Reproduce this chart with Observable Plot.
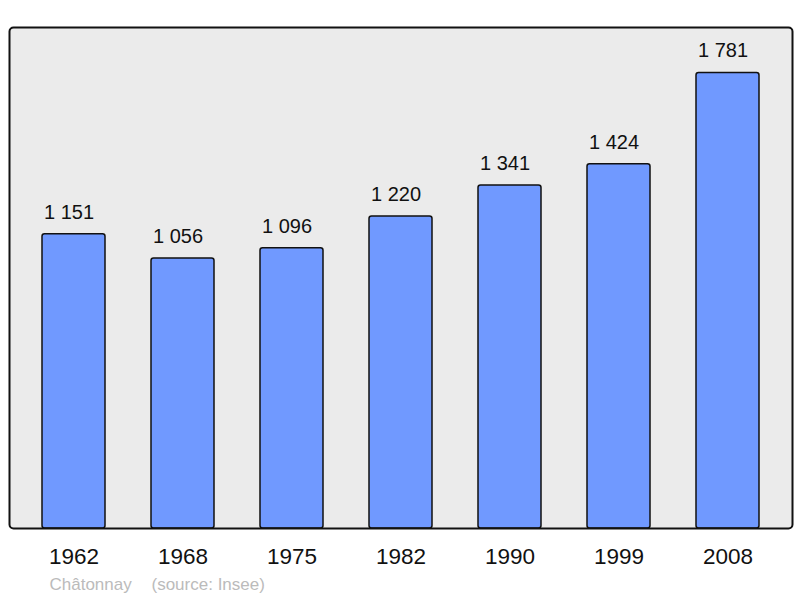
<!DOCTYPE html>
<html>
<head>
<meta charset="utf-8">
<script src="https://cdn.jsdelivr.net/npm/d3@7"></script>
<script src="https://cdn.jsdelivr.net/npm/@observablehq/plot@0.6"></script>
<style>
  html, body { margin: 0; padding: 0; background: #ffffff; }
  #chart { width: 800px; height: 598px; }
</style>
</head>
<body>
<div id="chart"></div>
<script>
const years = ["1962", "1968", "1975", "1982", "1990", "1999", "2008"];
const population = [1151, 1056, 1096, 1220, 1341, 1424, 1781];
const commune = "Châtonnay";
const source = "(source: Insee)";

const data = years.map((y, i) => ({year: y, pop: population[i]}));
const fmt = v => d3.format(",")(v).replace(/,/g, " ");
const font = "Liberation Sans, Arial, sans-serif";

const chart = Plot.plot({
  width: 800,
  height: 598,
  marginLeft: 9,
  marginRight: 8,
  marginTop: 27,
  marginBottom: 70,
  style: {fontFamily: font, background: "#ffffff"},
  x: {domain: years, range: [18, 784], paddingInner: 0.42, paddingOuter: 0.21, label: null},
  y: {domain: [0, 1781 * 1.1], axis: null},
  marks: [
    Plot.frame({fill: "#ebebeb", stroke: "none", rx: 4}),
    Plot.barY(data, {x: "year", y: "pop", fill: "#7099ff", stroke: "#111", strokeWidth: 1.5, rx: 2.5}),
    Plot.text(data, {x: "year", y: "pop", text: d => fmt(d.pop), dx: -5, dy: -22, fontSize: 20, fill: "#111", fontFamily: font}),
    Plot.axisX({tickSize: 0, tickPadding: 20, fontSize: 22.5, fill: "#111", fontFamily: font, label: null}),
    Plot.frame({stroke: "#111", strokeWidth: 2, rx: 4}),
    Plot.text([commune], {frameAnchor: "bottom-left", text: d => d, dx: 40, dy: 61, fontSize: 17, fill: "#bbbbbb", textAnchor: "start", fontFamily: font}),
    Plot.text([source], {frameAnchor: "bottom-left", text: d => d, dx: 142, dy: 61, fontSize: 17, fill: "#bbbbbb", textAnchor: "start", fontFamily: font})
  ]
});
document.getElementById("chart").appendChild(chart);
</script>
</body>
</html>
